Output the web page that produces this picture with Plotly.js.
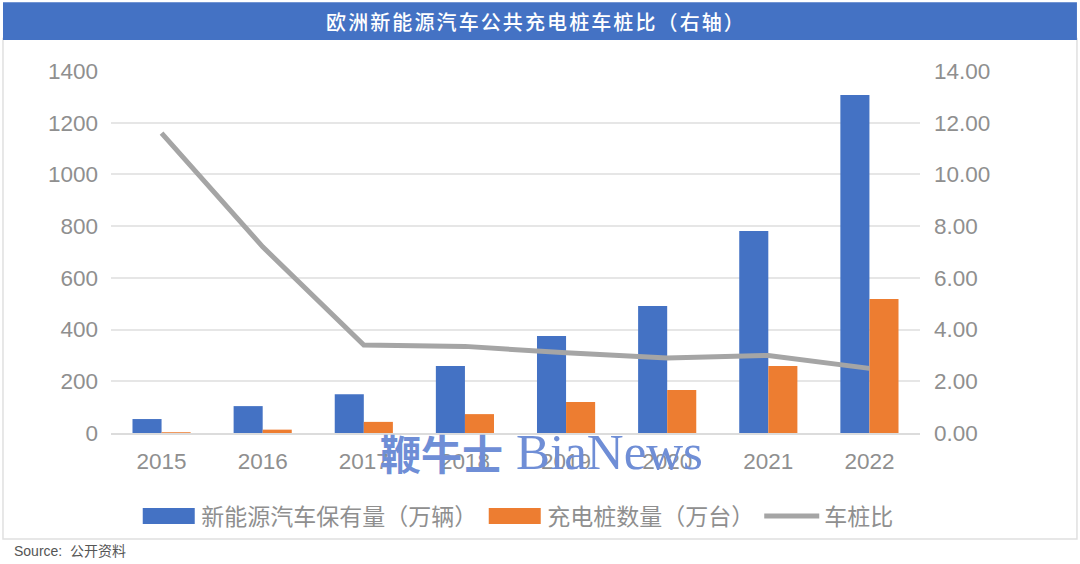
<!DOCTYPE html>
<html><head><meta charset="utf-8">
<script src="https://cdn.plot.ly/plotly-3.0.1.min.js"></script>
<style>html,body{margin:0;padding:0;background:#fff}</style></head>
<body><div id="chart" style="width:1080px;height:564px"></div>
<script>
const years=['2015','2016','2017','2018','2019','2020','2021','2022'];
const evStock=[54,104,150,259,375,491,781,1307];
const chargers=[3,13,43,73,120,166,259,518];
const ratio=[11.6,7.2,3.4,3.35,3.1,2.9,3.0,2.5];
const leftTicks=[0,200,400,600,800,1000,1200,1400];
const rightTicks=[0,2,4,6,8,10,12,14];
const rightLabels=['0.00','2.00','4.00','6.00','8.00','10.00','12.00','14.00'];
const seriesNames=['新能源汽车保有量（万辆）','充电桩数量（万台）','车桩比'];
const titleText='欧洲新能源汽车公共充电桩车桩比（右轴）';
const sourceText='Source:  公开资料';

const cjk='"Liberation Sans","Noto Sans CJK SC",sans-serif';
const tickFont={family:cjk,size:22.5,color:'#8f8f8f'};
const data=[
 {type:'bar',name:seriesNames[0],x:years,y:evStock,marker:{color:'#4472c4'}},
 {type:'bar',name:seriesNames[1],x:years,y:chargers,marker:{color:'#ed7d31'}},
 {type:'scatter',mode:'lines',name:seriesNames[2],x:years,y:ratio,yaxis:'y2',
  line:{color:'#a5a5a5',width:5}}
];
const layout={
 width:1080,height:564,paper_bgcolor:'#fff',plot_bgcolor:'#fff',
 margin:{l:111,r:160,t:71,b:131,autoexpand:false},
 barmode:'group',bargap:0.425,bargroupgap:0,
 xaxis:{type:'category',tickfont:tickFont,showgrid:false,showline:true,linecolor:'#dcdcdc',linewidth:2,
  ticks:'',ticklabelstandoff:7,zeroline:false},
 yaxis:{range:[0,1400],tickvals:leftTicks,tickfont:tickFont,gridcolor:'#e6e6e6',gridwidth:2,
  zeroline:false,ticks:'',ticklabelstandoff:12},
 yaxis2:{range:[0,14],overlaying:'y',side:'right',tickvals:rightTicks,ticktext:rightLabels,tickfont:tickFont,
  showgrid:false,zeroline:false,ticks:'',ticklabelstandoff:13},
 showlegend:true,
 legend:{orientation:'h',x:0.0312,xanchor:'left',y:-0.17,yanchor:'top',itemwidth:55,
  font:{family:cjk,size:23,color:'#8f8f8f'},traceorder:'normal',bgcolor:'rgba(0,0,0,0)'},
 shapes:[
  {type:'rect',xref:'paper',yref:'paper',layer:'below',x0:-0.1335,x1:1.194,y0:-0.293,y1:1.09,
   line:{color:'#e0e0e0',width:1.5},fillcolor:'#fff'},
  {type:'rect',xref:'paper',yref:'paper',layer:'above',x0:-0.1335,x1:1.194,y0:1.0856,y1:1.19,
   line:{width:0},fillcolor:'#4472c4'}
 ],
 annotations:[
  {text:titleText,xref:'paper',yref:'paper',x:0.525,xanchor:'center',y:1.137,yanchor:'middle',showarrow:false,
   font:{family:'"Noto Sans CJK SC",sans-serif',size:20,color:'#fff',weight:500}},
  {text:sourceText,xref:'paper',yref:'paper',x:-0.1225,xanchor:'left',y:-0.325,yanchor:'middle',showarrow:false,
   font:{family:'"Liberation Sans","Noto Sans CJK SC",sans-serif',size:14,color:'#555'}},
  {text:'鞭牛士',xref:'paper',yref:'paper',x:0.330,xanchor:'left',y:-0.053,yanchor:'middle',showarrow:false,
   font:{family:'"Noto Sans CJK SC",serif',size:41,color:'#6f8ed6',weight:700}},
  {text:'BiaNews',xref:'paper',yref:'paper',x:0.4985,xanchor:'left',y:-0.053,yanchor:'middle',showarrow:false,
   font:{family:'"Liberation Serif",serif',size:51,color:'#6f8ed6'}}
 ]
};
Plotly.newPlot('chart',data,layout,{displayModeBar:false,staticPlot:true}).then(gd=>{
 gd.querySelectorAll('.legend .legendpoints path').forEach(p=>{
  const d=p.getAttribute('d')||'';
  if(/^m6,6/i.test(d)) p.setAttribute('d','M26,8H-26V-8H26Z');
 });
 const t=[...gd.querySelectorAll('.annotation-text')].find(e=>e.textContent===titleText);
 if(t) t.style.letterSpacing='2.1px';
});
</script></body></html>
